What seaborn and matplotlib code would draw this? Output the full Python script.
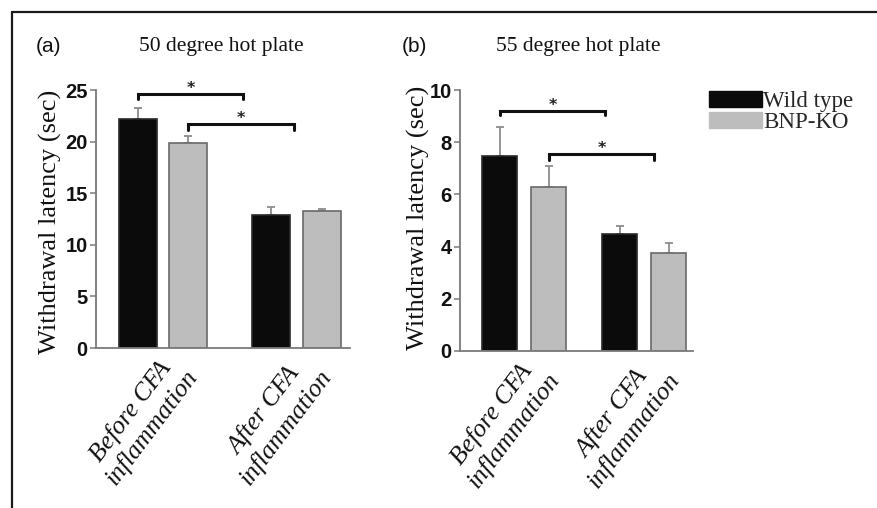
import matplotlib
matplotlib.use("Agg")
import matplotlib.pyplot as plt
import seaborn as sns
import pandas as pd
from matplotlib.lines import Line2D
from matplotlib.patches import Patch

# ---------------- data ----------------
conditions = ["Before CFA\ninflammation", "After CFA\ninflammation"]
genotypes = ["Wild type", "BNP-KO"]

a_wt = [22.2, 12.9]
a_ko = [19.9, 13.3]
a_wt_err = [1.1, 0.8]
a_ko_err = [0.6, 0.15]

b_wt = [7.47, 4.48]
b_ko = [6.27, 3.74]
b_wt_err = [1.1, 0.32]
b_ko_err = [0.82, 0.41]

a_yticks = [0, 5, 10, 15, 20, 25]
b_yticks = [0, 2, 4, 6, 8, 10]

# significance brackets: (genotype of left bar, condition index of left bar, bracket height, tick drop)
a_brackets = [("Wild type", 0, 24.6, 0.5), ("BNP-KO", 0, 21.75, 0.6)]
b_brackets = [("Wild type", 0, 9.21, 0.18), ("BNP-KO", 0, 7.55, 0.22)]
a_span = 0.79
b_span = 0.88

titles = ["50 degree hot plate", "55 degree hot plate"]
panel_tags = ["(a)", "(b)"]
ylabel = "Withdrawal latency (sec)"

colors = ["#0b0b0b", "#bdbdbd"]
edges = ["#2a2a2a", "#6a6a6a"]

SERIF = "Liberation Serif"
SANS = "Liberation Sans"

sns.set_style("white")
plt.rcParams["font.family"] = [SANS, "DejaVu Sans"]


def make_df(wt, ko):
    rows = []
    for g, vals in zip(genotypes, [wt, ko]):
        for c, v in zip(conditions, vals):
            rows.append({"condition": c, "genotype": g, "latency": v})
    return pd.DataFrame(rows)


fig = plt.figure(figsize=(8.78, 5.08), dpi=100)
W, H = 878, 508
axA = fig.add_axes([96 / W, 1 - 348 / H, 254 / W, 258 / H])
axB = fig.add_axes([460 / W, 1 - 351 / H, 233 / W, 261 / H])

panels = [
    (axA, a_wt, a_ko, a_wt_err, a_ko_err, a_yticks, a_brackets, a_span, 0.76, 0.25, (-0.502, 1.40), -0.135, 0.49),
    (axB, b_wt, b_ko, b_wt_err, b_ko_err, b_yticks, b_brackets, b_span, 0.816, 0.29, (-0.536, 1.406), -0.13, 0.51),
]

for (ax, wt, ko, wte, koe, yt, brackets, span, width, gap, xlim, ylx, yly) in panels:
    df = make_df(wt, ko)
    sns.barplot(data=df, x="condition", y="latency", hue="genotype",
                hue_order=genotypes, order=conditions, palette=colors,
                width=width, gap=gap, errorbar=None, legend=False, ax=ax,
                zorder=2)
    errs = [wte, koe]
    centers = {}
    bar_containers = list(ax.containers)
    for gi, cont in enumerate(bar_containers):
        xs, ys = [], []
        for ci, p in enumerate(cont.patches):
            p.set_edgecolor(edges[gi])
            p.set_linewidth(1.2)
            xc = p.get_x() + p.get_width() / 2
            xs.append(xc)
            ys.append(p.get_height())
            centers[(genotypes[gi], ci)] = xc
        ax.errorbar(xs, ys, yerr=[[0] * len(ys), errs[gi]], fmt="none",
                    ecolor="#8c8c8c", elinewidth=1.3, capsize=3.2,
                    capthick=1.3, zorder=1)
    for (g, ci, yb, drop) in brackets:
        x0 = centers[(g, ci)]
        x1 = x0 + span
        ax.plot([x0, x0, x1, x1], [yb - drop, yb, yb, yb - drop],
                color="#111111", lw=2.2, solid_joinstyle="miter",
                clip_on=False, zorder=3)
        ax.annotate("*", xy=((x0 + x1) / 2, yb), xytext=(0, -1.5),
                    textcoords="offset points", ha="center", va="bottom",
                    fontsize=11.5, fontweight="bold", color="#222222",
                    family="DejaVu Sans", annotation_clip=False)

    ax.set_xlim(*xlim)
    ax.set_ylim(yt[0], yt[-1])
    ax.set_yticks(yt)
    ax.set_yticklabels([str(v) for v in yt], fontsize=14.5, fontweight="bold",
                       family=SANS, color="#111111")
    ax.set_xticks(range(len(conditions)))
    ax.set_xticklabels(conditions, rotation=53, ha="right", va="top",
                       rotation_mode="anchor", fontstyle="italic",
                       family=SERIF, fontsize=18.5, multialignment="center",
                       color="#111111")
    ax.tick_params(axis="x", length=0, pad=1)
    ax.tick_params(axis="y", length=4, width=1.1, color="#7a7a7a",
                   direction="out", pad=2, left=True)
    ax.set_xlabel("")
    ax.set_ylabel(ylabel, family=SERIF, fontsize=19, color="#111111")
    ax.yaxis.set_label_coords(ylx, yly)
    for s in ["top", "right"]:
        ax.spines[s].set_visible(False)
    for s in ["left", "bottom"]:
        ax.spines[s].set_color("#7a7a7a")
        ax.spines[s].set_linewidth(1.3)
    ax.set_facecolor("white")

# titles and tags
fig.text(221 / W, 1 - 46 / H, titles[0], ha="center", va="center",
         family=SERIF, fontsize=15.5, color="#111111")
fig.text(578 / W, 1 - 46 / H, titles[1], ha="center", va="center",
         family=SERIF, fontsize=15.5, color="#111111")
fig.text(49 / W, 1 - 46 / H, panel_tags[0], ha="center", va="center",
         family=SANS, fontsize=15, color="#111111")
fig.text(414 / W, 1 - 46 / H, panel_tags[1], ha="center", va="center",
         family=SANS, fontsize=15, color="#111111")

# legend
handles = [Patch(facecolor=colors[i], edgecolor=colors[i]) for i in range(2)]
fig.legend(handles, genotypes, loc="upper left",
           bbox_to_anchor=(709 / W, 1 - 91 / H), frameon=False,
           prop={"family": SERIF, "size": 16.5}, handlelength=2.3,
           handleheight=0.7, handletextpad=0.05, labelspacing=0.0,
           borderpad=0, borderaxespad=0)

# frame lines (top and left)
fig.add_artist(Line2D([12 / W, 1], [1 - 12 / H, 1 - 12 / H],
                      transform=fig.transFigure, color="#1a1a1a", lw=1.6))
fig.add_artist(Line2D([12 / W, 12 / W], [0, 1 - 12 / H],
                      transform=fig.transFigure, color="#1a1a1a", lw=1.6))

fig.savefig("out.png", dpi=100, facecolor="white")
